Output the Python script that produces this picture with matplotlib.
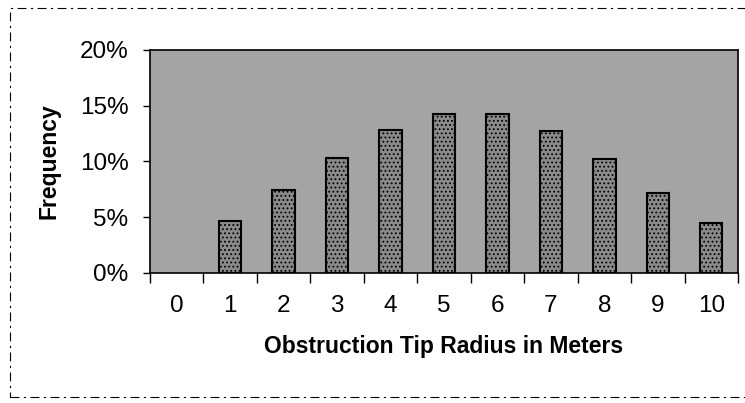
import numpy as np
import matplotlib
matplotlib.use("Agg")
import matplotlib.pyplot as plt
from matplotlib.ticker import FuncFormatter
from matplotlib.patches import Rectangle

# %% Data

radius = ["0", "1", "2", "3", "4", "5", "6", "7", "8", "9", "10"]
freq = [0.0, 4.7, 7.4, 10.3, 12.8, 14.3, 14.3, 12.7, 10.2, 7.2, 4.5]
y_ticks = [0, 5, 10, 15, 20]

# %% Plot

plt.rcParams['font.family'] = ['Liberation Sans', 'DejaVu Sans']
plt.rcParams['hatch.color'] = '#3a3a3a'
plt.rcParams['hatch.linewidth'] = 0.8

fig = plt.figure(figsize=(7.45, 4.03), dpi=100)
ax = fig.add_axes([0.2013, 0.3226, 0.7893, 0.5534])
ax.set_facecolor('#a4a4a4')

x = np.arange(len(radius))
freq = np.array(freq)
# empty categories get no bar at all
shown = freq > 0
ax.bar(x[shown], freq[shown], width=0.42, color='#8a8a8a', edgecolor='black',
       linewidth=1.5, hatch='....', zorder=3)

ax.set_xlim(-0.5, len(radius) - 0.5)
ax.set_ylim(0, 20)

# tick marks between categories, labels centred
ax.set_xticks(np.arange(-0.5, len(radius), 1))
ax.set_xticklabels([])
ax.set_xticks(x, minor=True)
ax.set_xticklabels(radius, minor=True, fontsize=17.5)
ax.tick_params(axis='x', which='major', length=7.2, width=1, direction='out')
ax.tick_params(axis='x', which='minor', length=0, pad=16)

ax.set_yticks(y_ticks)
ax.yaxis.set_major_formatter(FuncFormatter(lambda v, p: "%d%%" % v))
ax.tick_params(axis='y', length=5, width=1, direction='out', labelsize=17.5, pad=10.5)

for s in ax.spines.values():
    s.set_linewidth(1.2)
    s.set_color('black')

ax.set_xlabel("Obstruction Tip Radius in Meters", fontsize=16.5,
              fontweight='bold', labelpad=12.5)
ax.set_ylabel("Frequency", fontsize=16.5, fontweight='bold', labelpad=14)

# broken chart-area border of the scan
fig.patches.append(Rectangle((0.0134, 0.015), 1.2, 0.965, transform=fig.transFigure,
                             fill=False, edgecolor='black', linewidth=0.8,
                             linestyle=(0, (8, 4, 2, 4))))

fig.savefig("out.png", dpi=100)
